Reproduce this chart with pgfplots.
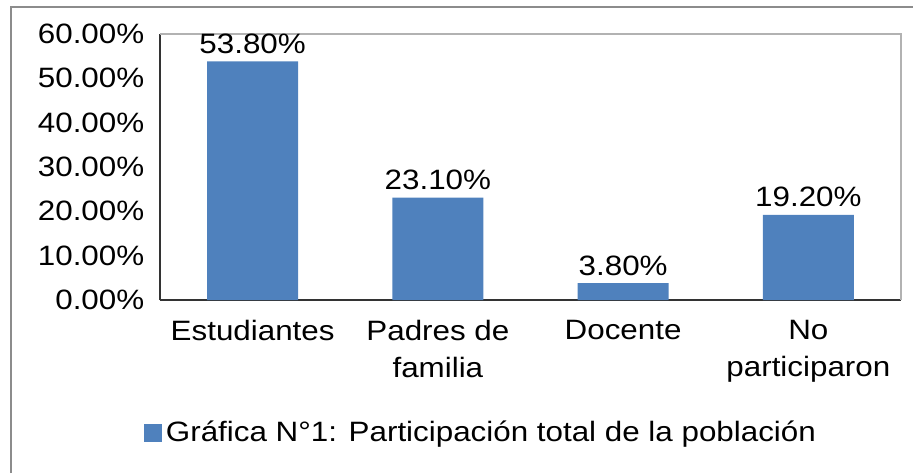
\documentclass[border=0pt]{standalone}
\usepackage{fontspec}
\setmainfont[FakeStretch=1.12]{Liberation Sans}
\usepackage{pgfplots}
\pgfplotsset{compat=1.18}
\definecolor{barblue}{HTML}{4F81BD}
\definecolor{framegray}{HTML}{8C8C8C}
\begin{document}
\fontsize{14}{18.5}\selectfont
\begin{tikzpicture}
% page: 913x473 px at 0.5pt/px, origin = lower left of plot area
\useasboundingbox (-80pt,-86.5pt) rectangle (376.5pt,150pt);
\draw[framegray, line width=0.6pt] (-74.5pt,-86.5pt) -- (-74.5pt,146.5pt) -- (376.5pt,146.5pt);
\begin{axis}[
  at={(0,0)}, anchor=south west,
  scale only axis, width=370.5pt, height=133pt,
  axis x line*=bottom, axis y line*=left,
  axis line style={black!80, line width=0.9pt},
  xmin=-0.5, xmax=3.5, ymin=0, ymax=60,
  xtick={0,1,2,3},
  xticklabels={Estudiantes, Padres de\\familia, Docente, No\\participaron},
  xticklabel style={align=center, yshift=-5pt},
  ytick={0,10,20,30,40,50,60},
  yticklabel={\pgfmathprintnumber[fixed,fixed zerofill,precision=2]{\tick}\%},
  yticklabel style={xshift=-3pt},
  /pgf/number format/assume math mode=true,
  major tick length=0pt,
  tick label style={font=\fontsize{14}{18.5}\selectfont},
  ybar, bar width=45.5pt,
  nodes near coords={\pgfmathprintnumber[fixed,fixed zerofill,precision=2]{\pgfplotspointmeta}\%},
  nodes near coords style={font=\fontsize{14}{18.5}\selectfont, yshift=-1pt},
  clip=false,
  legend style={at={(0.4345,-0.5)}, anchor=center, draw=none, fill=none,
    font=\fontsize{14}{18.5}\selectfont, inner sep=0pt},
  legend image code/.code={\fill[barblue] (0pt,-4.5pt) rectangle (9pt,4.5pt);},
]
\draw[black!30, line width=0.6pt] (rel axis cs:0,1) -- (rel axis cs:1,1) -- (rel axis cs:1,0);
\addplot[fill=barblue, draw=none] coordinates {(0,53.8) (1,23.1) (2,3.8) (3,19.2)};
\addlegendentry{Gráfica N°1: Participación total de la población}
\end{axis}
\end{tikzpicture}
\end{document}
